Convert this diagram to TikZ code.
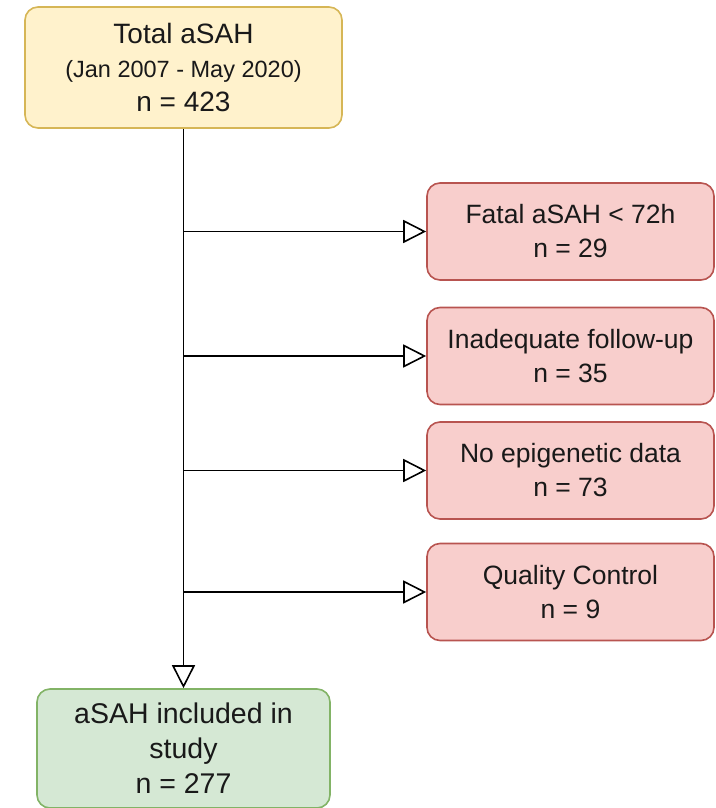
\documentclass[tikz,border=0pt]{standalone}
\usepackage{fontspec}
\setmainfont{Liberation Sans}
\usetikzlibrary{arrows.meta}
\definecolor{yfill}{HTML}{FFF2CC}
\definecolor{ydraw}{HTML}{D6B656}
\definecolor{rfill}{HTML}{F8CECC}
\definecolor{rdraw}{HTML}{B85450}
\definecolor{gfill}{HTML}{D5E8D4}
\definecolor{gdraw}{HTML}{82B366}
\tikzset{
  box/.style={draw, line width=1.6pt, rounded corners=13pt, align=center, inner sep=0pt, text=black!90},
  topbox/.style={box, fill=yfill, draw=ydraw, minimum width=317pt, minimum height=121pt, font=\fontsize{28}{34}\selectfont},
  redbox/.style={box, fill=rfill, draw=rdraw, minimum width=287pt, minimum height=97pt, font=\fontsize{26.5}{34}\selectfont},
  greenbox/.style={box, fill=gfill, draw=gdraw, minimum width=293pt, minimum height=119pt, font=\fontsize{28.5}{35}\selectfont},
  conn/.style={line width=1.8pt, draw=black, -{Triangle[open, length=23pt, width=23pt, line width=1.6pt]}}
}
\begin{document}
\begin{tikzpicture}[x=1pt, y=-1pt]
\useasboundingbox (0,0) rectangle (715,808);
\clip (0,0) rectangle (715,808);
\node[topbox] (top) at (183.5,67.5) {Total aSAH\\{\fontsize{23.5}{34}\selectfont (Jan 2007 - May 2020)}\\n = 423};
\node[redbox] (r1) at (570.5,231.5) {Fatal aSAH < 72h\\n = 29};
\node[redbox] (r2) at (570.5,356) {Inadequate follow-up\\n = 35};
\node[redbox] (r3) at (570.5,470.5) {No epigenetic data\\n = 73};
\node[redbox] (r4) at (570.5,592) {Quality Control\\n = 9};
\node[greenbox] (g) at (183.5,748.5) {aSAH included in\\study\\n = 277};
\coordinate (j1) at (183.5,231.5);
\coordinate (j2) at (183.5,356);
\coordinate (j3) at (183.5,470.5);
\coordinate (j4) at (183.5,592);
\draw[conn] (top.south) -- (g.north);
\draw[conn] (j1) -- (r1.west);
\draw[conn] (j2) -- (r2.west);
\draw[conn] (j3) -- (r3.west);
\draw[conn] (j4) -- (r4.west);
\end{tikzpicture}
\end{document}
